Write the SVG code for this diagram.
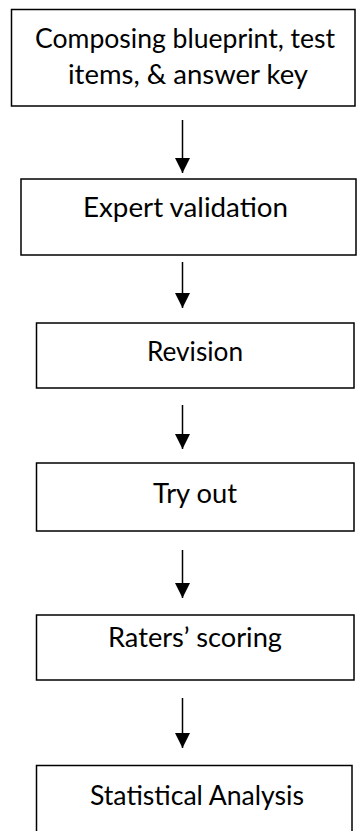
<svg xmlns="http://www.w3.org/2000/svg" width="357" height="831" viewBox="0 0 357 831">
<defs>
<style>
.box{fill:#fff;stroke:#000;stroke-width:1.5}
.lbl{font-family:"Lato","Open Sans","Liberation Sans",sans-serif;font-size:26px;fill:#000;text-anchor:middle}
.edge{stroke:#000;stroke-width:1.5;fill:none}
</style>
<marker id="ah" markerUnits="userSpaceOnUse" markerWidth="16" markerHeight="16" refX="15" refY="7.5" orient="auto">
<path d="M0,0 L15,7.5 L0,15 Z" fill="#000"/>
</marker>
</defs>
<rect width="357" height="831" fill="#fff"/>
<g id="node1">
<rect class="box" x="11.5" y="9.5" width="343.5" height="96.5"/>
<text class="lbl" x="185" y="48" textLength="300" lengthAdjust="spacingAndGlyphs">Composing blueprint, test</text>
<text class="lbl" x="188" y="84" textLength="240" lengthAdjust="spacingAndGlyphs">items, &amp; answer key</text>
</g>
<g id="node2">
<rect class="box" x="21" y="179" width="335" height="76"/>
<text class="lbl" x="185.5" y="216.5" textLength="205" lengthAdjust="spacingAndGlyphs">Expert validation</text>
</g>
<g id="node3">
<rect class="box" x="36.5" y="323" width="317.5" height="65"/>
<text class="lbl" x="195" y="361" textLength="96" lengthAdjust="spacingAndGlyphs">Revision</text>
</g>
<g id="node4">
<rect class="box" x="36.5" y="463" width="317.5" height="68"/>
<text class="lbl" x="195" y="502.5" textLength="84" lengthAdjust="spacingAndGlyphs">Try out</text>
</g>
<g id="node5">
<rect class="box" x="36.5" y="615" width="317.5" height="65"/>
<text class="lbl" x="195" y="647" textLength="174" lengthAdjust="spacingAndGlyphs">Raters’ scoring</text>
</g>
<g id="node6">
<rect class="box" x="36.5" y="765.5" width="315.5" height="80"/>
<text class="lbl" x="197" y="805" textLength="214" lengthAdjust="spacingAndGlyphs">Statistical Analysis</text>
</g>
<g id="connectors">
<line class="edge" x1="182.5" y1="120" x2="182.5" y2="173" marker-end="url(#ah)"/>
<line class="edge" x1="182.5" y1="262" x2="182.5" y2="308" marker-end="url(#ah)"/>
<line class="edge" x1="182.5" y1="405" x2="182.5" y2="449" marker-end="url(#ah)"/>
<line class="edge" x1="182.5" y1="550" x2="182.5" y2="598" marker-end="url(#ah)"/>
<line class="edge" x1="182.5" y1="698" x2="182.5" y2="748" marker-end="url(#ah)"/>
</g>
</svg>
